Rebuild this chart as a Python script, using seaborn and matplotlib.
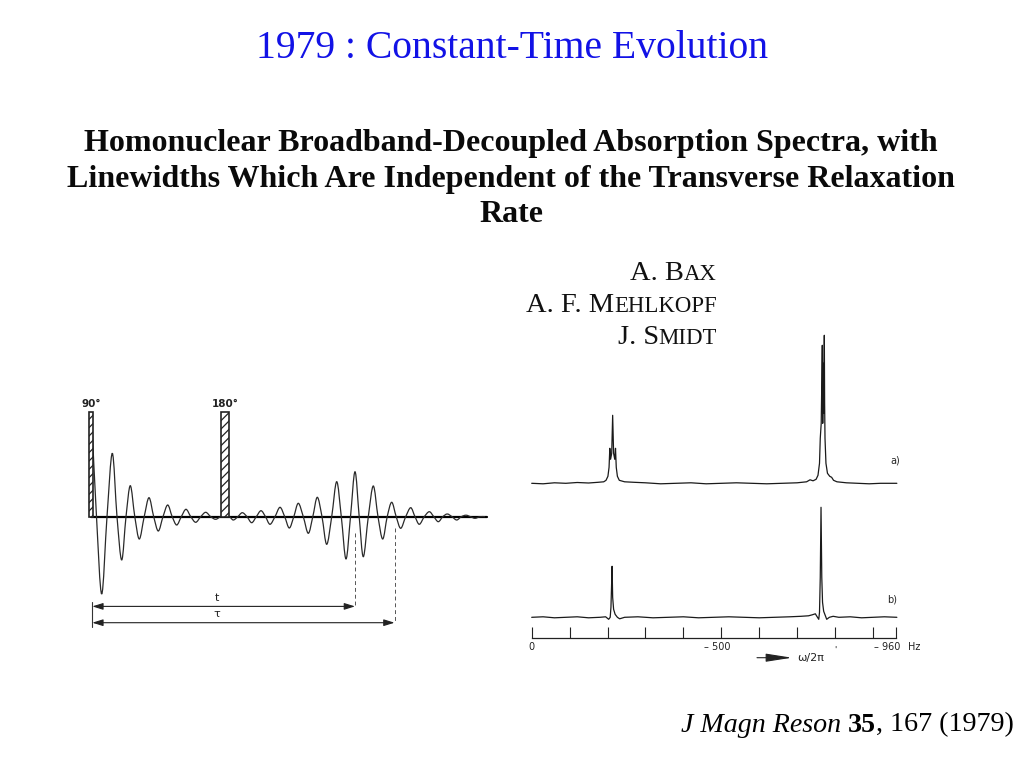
import matplotlib
matplotlib.use("Agg")
import matplotlib.pyplot as plt
from matplotlib.path import Path
from matplotlib.patches import PathPatch
import seaborn as sns
import pandas as pd

# ---------------- data ----------------
title_text = "1979 : Constant-Time Evolution"
heading_lines = ["Homonuclear Broadband-Decoupled Absorption Spectra, with",
                 "Linewidths Which Are Independent of the Transverse Relaxation",
                 "Rate"]
authors = [("A. B", "AX"), ("A. F. M", "EHLKOPF"), ("J. S", "MIDT")]
citation = [("J Magn Reson", "italic"), ("35", "bold"), (", 167 (1979)", "normal")]

# pulse sequence (time in arbitrary units, amplitude relative to baseline)
pulse_left = [-3.0, 129.0]
pulse_width = [4.3, 8.0]
pulse_height = [105.0, 105.0]
pulse_labels = ["90°", "180°"]
axis_span = [-1.0, 395.0]

fid_t = [0, 4.5, 9.7, 15, 20.3, 25, 29.7, 34, 38.3, 42.8, 47.3, 52.2, 57, 61.7,
         66.3, 71, 75.7, 80.2, 84.7, 89.3, 94, 98.8, 103.7, 108.7, 113.7, 118.7,
         123.7, 129, 137, 141.3, 145.8, 150.3, 155, 159.7, 164.3, 169, 173.5, 178,
         183, 188, 192.7, 197.3, 201.8, 206.3, 211.3, 216.3, 220.8, 225.3, 230,
         234.7, 239.7, 244.7, 249.3, 254, 258.5, 263, 267.2, 271.3, 276.3, 281.3,
         286, 290.7, 295.2, 299.7, 304.2, 308.7, 313.7, 318.7, 323, 327.3, 332.3,
         337.3, 341.8, 346.3, 350.8, 355.3, 360, 364.7, 369.3, 374, 378.5, 383,
         388, 393]
fid_a = [91.7, 0, -77.3, 0, 63.4, 0, -43.3, 0, 31, 0, -22.3, 0, 19, 0,
         -14.3, 0, 11.7, 0, -8.3, 0, 7.4, 0, -5.6, 0, 4.4, 0,
         -2.6, 0, 0, -3.3, 0, 4, 0, -6, 0, 6, 0, -7.6,
         0, 9.4, 0, -11.3, 0, 13.4, 0, -16.6, 0, 19.4, 0,
         -27.6, 0, 35, 0, -42.3, 0, 45, 0, -40, 0, 30.7,
         0, -22.3, 0, 14.4, 0, -11.6, 0, 9, 0, -7.6, 0,
         5, 0, -5, 0, 2.7, 0, -3.3, 0, 1.5, 0, -1.6,
         0, 0]
t_echo = 263.0
t_tau = 302.5

# spectra (frequency in Hz, intensity relative to baseline)
spec_a_hz = [0, -30, -60, -90, -120, -150, -175, -190, -196, -201, -204, -206,
             -208, -211, -213.5, -216, -219, -221, -223, -226, -231, -245, -270,
             -300, -340, -380, -420, -460, -500, -540, -580, -620, -660, -700,
             -725, -734, -742, -750, -755, -759, -761, -763.5, -765, -766.4,
             -767.5, -769, -770, -771.7, -772.5, -773.5, -776, -780, -786, -791,
             -796, -805, -830, -860, -890, -920, -963]
spec_a_int = [0, -0.5, 0.5, 0, 0.8, 0.3, 1, 1.5, 3, 7, 16, 35,
              24, 30, 68, 30, 24, 35, 16, 7, 3, 1.5, 1,
              0.5, -0.5, 0, 0.5, -0.5, 0, 0.5, 0, -0.5, 0, 0.5,
              1.5, 3.5, 2.5, 4, 8, 20, 45, 60, 100, 138,
              60, 120, 70, 148, 80, 45, 20, 10, 7, 6,
              3, 1.5, 0.5, 0, -0.5, 0, 0]
spec_b_hz = [0, -30, -60, -90, -120, -150, -180, -195, -203, -207, -209, -210.5,
             -212, -213.5, -216, -220, -226, -232, -245, -280, -320, -360, -400,
             -440, -480, -520, -560, -600, -640, -680, -710, -730, -740, -748,
             -752, -757, -759, -761, -763, -765, -767, -770, -774, -778, -785,
             -795, -810, -840, -870, -900, -930, -963]
spec_b_int = [0, 0.5, -0.5, 0, 0.5, -0.5, 0, 0.5, -2, 0, 10, 30,
              51, 20, 8, 3, 0, -1.5, 0, 0.5, -0.5, 0, 0.5,
              -0.5, 0, 0.5, 0, -0.5, 0, 0.5, 1, 1.5, 2.5, 3.5,
              1, -2, 5, 40, 110, 40, 15, 6, 2, -2, 0,
              1, 0, 0.5, -0.5, 0, 0.5, 0]
scale_ticks = [0, -100, -200, -300, -400, -500, -600, -700, -800, -900, -960]
scale_label_values = [0, -500, -960]
scale_label_text = ["0", "– 500", "– 960"]
spectrum_tags = ["a)", "b)"]

# ---------------- figure ----------------
sns.set_theme(style="white")
plt.rcParams["font.family"] = ["DejaVu Sans"]
plt.rcParams["hatch.linewidth"] = 0.9

W, H = 1024, 768
fig = plt.figure(figsize=(W / 100, H / 100), dpi=100)
fig.patch.set_facecolor("white")
renderer = fig.canvas.get_renderer()


def box(x0, y0, x1, y1):
    return [x0 / W, 1 - y1 / H, (x1 - x0) / W, (y1 - y0) / H]


# overlay in pixel units for text
ax_t = fig.add_axes([0, 0, 1, 1])
ax_t.set_xlim(0, W)
ax_t.set_ylim(H, 0)
ax_t.axis("off")


def width_of(s, **kw):
    t = ax_t.text(0, 0, s, **kw)
    w = t.get_window_extent(renderer).width
    t.remove()
    return w


def fit_size(s, target, **kw):
    return 20 * target / width_of(s, fontsize=20, **kw)


serif = ["Liberation Serif", "DejaVu Serif"]

# title
fs = fit_size(title_text, 513, family=serif)
ax_t.text(512, 48, title_text, fontsize=fs, family=serif, color="#1212e6",
          ha="center", va="center")

# heading
fs_h = fit_size(heading_lines[1], 888, family=serif, weight="bold")
for s, y in zip(heading_lines, [143, 179, 214]):
    ax_t.text(511, y, s, fontsize=fs_h, family=serif, weight="bold",
              ha="center", va="center", color="#0a0a0a")

# authors (small caps composed of two sizes), right aligned
big = 20.5
small = big * 0.8
for (a, b), yb in zip(authors, [279.5, 312.5, 344.5]):
    wa = width_of(a, fontsize=big, family=serif)
    wb = width_of(b, fontsize=small, family=serif)
    x0 = 717 - wa - wb
    ax_t.text(x0, yb, a, fontsize=big, family=serif, ha="left", va="baseline",
              color="#111111")
    ax_t.text(x0 + wa, yb, b, fontsize=small, family=serif, ha="left",
              va="baseline", color="#111111")

# citation
cfs = 20.2
gap = width_of("a a", fontsize=cfs, family=serif) - width_of("aa", fontsize=cfs, family=serif)
x = 681
for i, (s, style) in enumerate(citation):
    kw = dict(fontsize=cfs, family=serif)
    if style == "italic":
        kw["style"] = "italic"
    if style == "bold":
        kw["weight"] = "bold"
    ax_t.text(x, 731.5, s, ha="left", va="baseline", color="black", **kw)
    x += width_of(s, **kw)
    if i == 0:
        x += gap

# ---------------- pulse sequence ----------------
ax_f = fig.add_axes(box(80, 390, 500, 640))
ax_f.set_xlim(-12, 408)
ax_f.set_ylim(-123.3, 126.7)
ax_f.axis("off")
ax_f.plot(axis_span, [0, 0], color="black", lw=1.6, zorder=2)

fid = pd.DataFrame({"t": fid_t, "a": fid_a})
# read points passed through seaborn, then a smooth curve through them
sns.lineplot(data=fid, x="t", y="a", sort=False, estimator=None, color="#2a2a2a",
             lw=0.0, ax=ax_f, zorder=1)
xs, ys = fid["t"].tolist(), fid["a"].tolist()
verts = [(xs[0], ys[0])]
codes = [Path.MOVETO]
n = len(xs)
for i in range(n - 1):
    p0 = i - 1 if i > 0 else i
    p3 = i + 2 if i + 2 < n else i + 1
    c1 = (xs[i] + (xs[i + 1] - xs[p0]) / 6, ys[i] + (ys[i + 1] - ys[p0]) / 6)
    c2 = (xs[i + 1] - (xs[p3] - xs[i]) / 6, ys[i + 1] - (ys[p3] - ys[i]) / 6)
    verts += [c1, c2, (xs[i + 1], ys[i + 1])]
    codes += [Path.CURVE4] * 3
ax_f.add_patch(PathPatch(Path(verts, codes), facecolor="none", edgecolor="#2a2a2a",
                         lw=0.9, zorder=3))

ax_f.bar(pulse_left, pulse_height, width=pulse_width, align="edge",
         facecolor="white", edgecolor="#222222", hatch="////", lw=1.2, zorder=4)
for l, w, h, lab in zip(pulse_left, pulse_width, pulse_height, pulse_labels):
    ax_f.text(l + w / 2, h + 7.5, lab, fontsize=7.5, weight="bold",
              ha="center", va="center", color="#222222")
ax_f.plot([t_echo, t_echo], [-16.6, -89.7], color="#555555", lw=0.7, ls=(0, (4, 3)))
ax_f.plot([t_tau, t_tau], [-11.6, -106], color="#555555", lw=0.7, ls=(0, (4, 3)))
ax_f.plot([0.3, 0.3], [-85, -110], color="#333333", lw=0.8)
for t_end, yy, lab in [(t_echo, -89.7, "t"), (t_tau, -106, "τ")]:
    ax_f.annotate("", xy=(t_end, yy), xytext=(0.3, yy),
                  arrowprops=dict(arrowstyle="<|-|>,head_length=0.8,head_width=0.25",
                                  color="#222222", lw=0.8, shrinkA=0, shrinkB=0,
                                  mutation_scale=8))
    ax_f.text(124.7, yy + 8.4, lab, fontsize=8, ha="center", va="center",
              color="#222222")

# ---------------- spectra ----------------
xl = (30.86, -1050.4)
ax_a = fig.add_axes(box(520, 320, 930, 495))
sns.lineplot(x=spec_a_hz, y=spec_a_int, sort=False, estimator=None,
             color="#1a1a1a", lw=0.9, ax=ax_a)
ax_a.set_xlim(*xl)
ax_a.set_ylim(-11.7, 163.3)
ax_a.axis("off")
ax_a.text(-945, 23, spectrum_tags[0], fontsize=7, ha="left", va="center")

ax_b = fig.add_axes(box(520, 495, 930, 638.3))
sns.lineplot(x=spec_b_hz, y=spec_b_int, sort=False, estimator=None,
             color="#1a1a1a", lw=0.9, ax=ax_b)
ax_b.set_xlim(*xl)
ax_b.set_ylim(-21, 122.3)
ax_b.set_facecolor("none")
for s in ["top", "left", "right"]:
    ax_b.spines[s].set_visible(False)
ax_b.spines["bottom"].set_bounds(0, -960)
ax_b.spines["bottom"].set_color("#222222")
ax_b.spines["bottom"].set_linewidth(0.9)
ax_b.set_yticks([])
ax_b.set_xticks(scale_ticks)
ax_b.set_xticklabels([""] * len(scale_ticks))
ax_b.tick_params(axis="x", direction="in", length=8, width=0.8,
                 colors="#222222", bottom=True)
ax_b.set_xlabel("")
ax_b.set_ylabel("")
ax_b.text(-938, 18, spectrum_tags[1], fontsize=7, ha="left", va="center")
# scale labels, set like the original typesetting (dash hanging to the left)
label_shift = {0: 0, -500: -4, -960: -9}
for v, s in zip(scale_label_values, scale_label_text):
    ax_b.annotate(s, xy=(v, 0), xycoords=("data", "axes fraction"),
                  xytext=(label_shift[v], -8.5), textcoords="offset pixels",
                  ha="center", va="center", fontsize=7, color="#222222")

ax_t.text(908, 647, "Hz", fontsize=7, ha="left", va="center", color="#222222")
ax_t.annotate("", xy=(792, 657.7), xytext=(757, 657.7),
              arrowprops=dict(arrowstyle="-|>,head_length=1.6,head_width=0.25",
                              color="#222222", lw=0.8, mutation_scale=10,
                              shrinkA=0, shrinkB=0))
ax_t.text(797, 657.7, "ω/2π", fontsize=8, ha="left", va="center", color="#222222")
ax_t.text(834, 650, "'", fontsize=6, ha="left", va="center", color="#222222")

fig.savefig("out.png", dpi=100, facecolor="white")
